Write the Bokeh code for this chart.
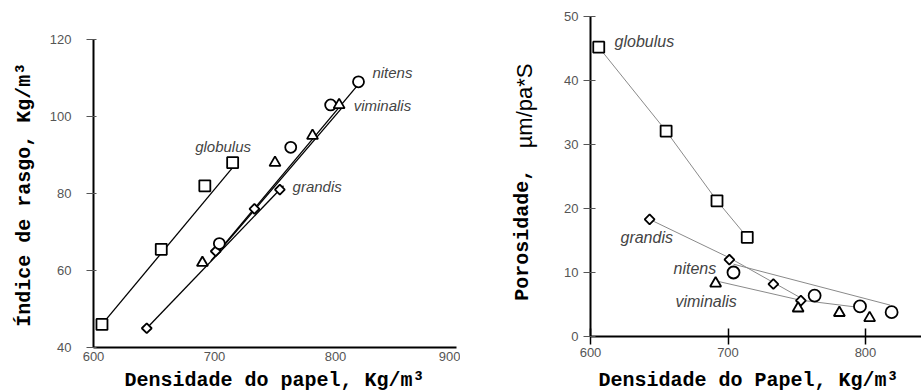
import math
from bokeh.plotting import figure
from bokeh.layouts import row
from bokeh.models import Label, FixedTicker, LinearAxis
from bokeh.embed import file_html
from bokeh.resources import INLINE

# ---------------- data: left panel (tear index vs density) ----------------
tear_globulus_x = [607, 656, 692, 715]
tear_globulus_y = [46, 65.5, 82, 88]
tear_grandis_x = [644, 701, 733, 754]
tear_grandis_y = [45, 65, 76, 81]
tear_nitens_x = [704, 763, 796, 819]
tear_nitens_y = [67, 92, 103, 109]
tear_viminalis_x = [690, 750, 781, 803]
tear_viminalis_y = [62, 88, 95, 103]

# fitted lines (end points)
fit_tear_globulus_x = [611, 717]
fit_tear_globulus_y = [47.5, 87.5]
fit_tear_grandis_x = [644, 757]
fit_tear_grandis_y = [45, 82]
fit_tear_viminalis_x = [697, 806]
fit_tear_viminalis_y = [62.5, 102.5]
fit_tear_nitens_x = [702, 822]
fit_tear_nitens_y = [64.5, 109.5]

left_xticks = [600, 700, 800, 900]
left_yticks = [40, 60, 80, 100, 120]

# ---------------- data: right panel (porosity vs density) ----------------
por_globulus_x = [606, 655, 692, 714]
por_globulus_y = [45.2, 32.1, 21.2, 15.5]
por_grandis_x = [643, 701, 733, 753]
por_grandis_y = [18.3, 12.0, 8.2, 5.6]
por_nitens_x = [704, 763, 796, 819]
por_nitens_y = [10.0, 6.4, 4.7, 3.8]
por_viminalis_x = [691, 751, 781, 803]
por_viminalis_y = [8.3, 4.4, 3.7, 2.9]

fit_por_globulus_x = [606, 655, 692, 714]
fit_por_globulus_y = [45.2, 32.1, 21.2, 15.5]
fit_por_grandis_x = [643, 701, 754]
fit_por_grandis_y = [18.3, 12.3, 5.9]
fit_por_nitens_x = [704, 818]
fit_por_nitens_y = [11.3, 4.9]
fit_por_viminalis_x = [693, 752, 797]
fit_por_viminalis_y = [8.6, 5.7, 4.5]

right_xticks = [600, 700, 800]
right_yticks = [0, 10, 20, 30, 40, 50]

MONO = "Liberation Mono"
SANS = "Liberation Sans"
TICK_COLOR = "#555555"
LABEL_COLOR = "#444444"


def make_axis(ticks, loc, bounds, tick_in, tick_out, standoff, tick_color="#555555", tick_w=1):
    return LinearAxis(ticker=FixedTicker(ticks=ticks), fixed_location=loc, bounds=bounds,
                      axis_line_color="black", axis_line_width=2,
                      minor_tick_line_color=None,
                      major_tick_line_color=tick_color, major_tick_line_width=tick_w,
                      major_tick_in=tick_in, major_tick_out=tick_out,
                      major_label_standoff=standoff,
                      major_label_text_font=SANS, major_label_text_font_size="13px",
                      major_label_text_color=TICK_COLOR)


def base_fig(width, xr, yr):
    p = figure(width=width, height=392, x_range=xr, y_range=yr,
               output_backend="svg", toolbar_location=None,
               x_axis_location=None, y_axis_location=None,
               min_border_left=0, min_border_right=0,
               min_border_top=0, min_border_bottom=0)
    p.outline_line_color = None
    p.xgrid.visible = False
    p.ygrid.visible = False
    if "frame_align" in p.properties():
        p.frame_align = False
    return p


def title_label(p, text, x, y, angle=0.0, font=MONO, style="bold",
                size="20px", align="center"):
    p.add_layout(Label(x=x, y=y, text=text, angle=angle,
                       text_font=font, text_font_style=style, text_font_size=size,
                       text_color="black", text_align=align, text_baseline="middle"))


# ---------------- left figure ----------------
p1 = base_fig(460, (523.14, 903.3), (28.31, 130.13))
p1.add_layout(make_axis(left_xticks, 40, (600, 900), 0, 0, 5), "below")
p1.add_layout(make_axis(left_yticks, 600, (40, 120), 3, 7, 15), "left")
title_label(p1, "Densidade do papel, Kg/m\u00b3", 749.6, 31.5)
title_label(p1, "\u00cdndice de rasgo, Kg/m\u00b3", 543.0, 79.7, angle=math.pi / 2)

lc = "black"
for fx, fy in [(fit_tear_globulus_x, fit_tear_globulus_y),
               (fit_tear_grandis_x, fit_tear_grandis_y),
               (fit_tear_viminalis_x, fit_tear_viminalis_y),
               (fit_tear_nitens_x, fit_tear_nitens_y)]:
    p1.line(fx, fy, line_color=lc, line_width=1.3)

mk = dict(fill_color="white", line_color="black", line_width=1.8)
p1.scatter(tear_globulus_x, tear_globulus_y, marker="square", size=11, **mk)
p1.scatter(tear_grandis_x, tear_grandis_y, marker="square", size=7, angle=math.pi / 4, **mk)
p1.scatter(tear_nitens_x, tear_nitens_y, marker="circle", size=11, **mk)
p1.scatter(tear_viminalis_x, tear_viminalis_y, marker="triangle", size=11, **mk)

for txt, x, y in [("globulus", 684, 92.2), ("grandis", 764.5, 81.8),
                  ("nitens", 830.5, 111.4), ("viminalis", 815, 102.9)]:
    p1.add_layout(Label(x=x, y=y, text=txt, text_font=SANS, text_font_style="italic",
                        text_font_size="15px", text_color=LABEL_COLOR,
                        text_baseline="middle", text_align="left"))

# ---------------- right figure ----------------
p2 = base_fig(461, (505.45, 840.73), (-8.75, 52.5))
p2.add_layout(make_axis(right_xticks, 0, (600, 840.73), 8, 8, 3,
                        tick_color="black", tick_w=1.5), "below")
p2.add_layout(make_axis(right_yticks, 600, (0, 50), 5, 7, 5), "left")
title_label(p2, "Densidade do Papel, Kg/m\u00b3", 714.9, -6.9)
title_label(p2, "Porosidade,", 550.5, 5.6, angle=math.pi / 2, align="left")
title_label(p2, "\u00b5m/pa*S", 552.0, 29.4, angle=math.pi / 2, align="left",
            font=SANS, style="normal", size="22px")

gc = "#8a8a8a"
for fx, fy in [(fit_por_globulus_x, fit_por_globulus_y),
               (fit_por_grandis_x, fit_por_grandis_y),
               (fit_por_nitens_x, fit_por_nitens_y),
               (fit_por_viminalis_x, fit_por_viminalis_y)]:
    p2.line(fx, fy, line_color=gc, line_width=1)

p2.scatter(por_globulus_x, por_globulus_y, marker="square", size=11, **mk)
p2.scatter(por_grandis_x, por_grandis_y, marker="square", size=7, angle=math.pi / 4, **mk)
p2.scatter(por_nitens_x, por_nitens_y, marker="circle", size=12, **mk)
p2.scatter(por_viminalis_x, por_viminalis_y, marker="triangle", size=11, **mk)

for txt, x, y in [("globulus", 617.5, 46.1), ("grandis", 621.8, 15.5),
                  ("nitens", 660.4, 10.6), ("viminalis", 661.8, 5.5)]:
    p2.add_layout(Label(x=x, y=y, text=txt, text_font=SANS, text_font_style="italic",
                        text_font_size="16px", text_color=LABEL_COLOR,
                        text_baseline="middle", text_align="left"))

layout = row(p1, p2)
open("out.html", "w").write(file_html(layout, INLINE))
